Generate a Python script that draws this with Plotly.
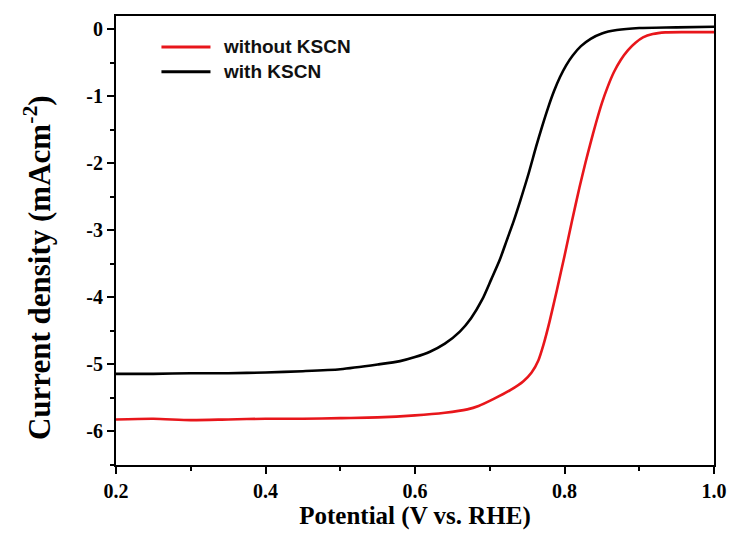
import plotly.graph_objects as go

# Data
x_without = [0.20, 0.25, 0.30, 0.35, 0.40, 0.45, 0.50, 0.55, 0.60, 0.64, 0.67, 0.685, 0.706, 0.728, 0.745, 0.756, 0.765, 0.772, 0.780,
             0.790, 0.800, 0.810, 0.820, 0.828, 0.834, 0.842, 0.850, 0.858, 0.866, 0.875, 0.885, 0.895, 0.905, 0.918, 0.935, 0.960, 1.00]
y_without = [-5.82, -5.81, -5.83, -5.82, -5.81, -5.81, -5.80, -5.79, -5.76, -5.72, -5.67, -5.62, -5.51, -5.38, -5.25, -5.12, -4.94, -4.70, -4.36,
             -3.88, -3.38, -2.86, -2.36, -1.99, -1.73, -1.40, -1.10, -0.85, -0.64, -0.46, -0.31, -0.20, -0.12, -0.07, -0.045, -0.04, -0.04]

x_with = [0.20, 0.25, 0.30, 0.35, 0.40, 0.45, 0.50, 0.55, 0.58, 0.60, 0.62, 0.64, 0.66, 0.675, 0.690, 0.702, 0.713, 0.723, 0.732, 0.741,
          0.752, 0.762, 0.770, 0.778, 0.786, 0.794, 0.802, 0.811, 0.822, 0.835, 0.850, 0.870, 0.900, 0.950, 1.00]
y_with = [-5.14, -5.14, -5.13, -5.13, -5.12, -5.10, -5.07, -5.00, -4.95, -4.89, -4.81, -4.69, -4.51, -4.31, -4.03, -3.73, -3.45, -3.14, -2.86, -2.55,
          -2.15, -1.75, -1.45, -1.17, -0.92, -0.71, -0.54, -0.39, -0.25, -0.14, -0.06, -0.01, 0.02, 0.03, 0.04]

series_names = ["without KSCN", "with KSCN"]
series_colors = ["#e8161b", "#000000"]

x_ticks = [0.2, 0.4, 0.6, 0.8, 1.0]
x_ticktext = ["0.2", "0.4", "0.6", "0.8", "1.0"]
y_ticks = [0, -1, -2, -3, -4, -5, -6]
y_ticktext = ["0", "-1", "-2", "-3", "-4", "-5", "-6"]

fig = go.Figure()
fig.add_trace(go.Scatter(x=x_without, y=y_without, mode="lines", name=series_names[0],
                         line=dict(color=series_colors[0], width=2.6, shape="spline", smoothing=0.7)))
fig.add_trace(go.Scatter(x=x_with, y=y_with, mode="lines", name=series_names[1],
                         line=dict(color=series_colors[1], width=2.6, shape="spline", smoothing=0.7)))

serif = "Liberation Serif, Times New Roman, serif"
axis_common = dict(showline=True, linecolor="black", linewidth=2, mirror=True, showgrid=False, zeroline=False,
                   ticks="outside", ticklen=7, tickwidth=2, tickcolor="black",
                   tickfont=dict(family=serif, size=20, color="black"))

fig.update_xaxes(range=[0.2, 1.0], tickvals=x_ticks, ticktext=["<b>" + t + "</b>" for t in x_ticktext],
                 minor=dict(dtick=0.1, tick0=0.2, ticks="outside", ticklen=4, tickwidth=2, tickcolor="black"),
                 title=dict(text="<b>Potential (V vs. RHE)</b>", font=dict(family=serif, size=25, color="black"), standoff=2),
                 **axis_common)
fig.update_yaxes(range=[-6.5, 0.2], tickvals=y_ticks, ticktext=["<b>" + t + "</b>" for t in y_ticktext],
                 minor=dict(dtick=0.5, tick0=0, ticks="outside", ticklen=4, tickwidth=2, tickcolor="black"),
                 **axis_common)

# Y-axis title placed as in the reference (slightly below the axis centre)
fig.add_annotation(xref="paper", yref="paper", x=-0.131, y=0.44, xanchor="center", yanchor="middle",
                   text="<b>Current density (mAcm<sup>-2</sup>)</b>", textangle=-90, showarrow=False,
                   font=dict(family=serif, size=31, color="black"))

# Manual legend (line sample + label)
legend_y = [0.931, 0.876]
for name, color, ly in zip(series_names, series_colors, legend_y):
    fig.add_shape(type="line", xref="paper", yref="paper", x0=0.076, x1=0.158, y0=ly, y1=ly,
                  line=dict(color=color, width=3))
    fig.add_annotation(xref="paper", yref="paper", x=0.176, y=ly, text="<b>" + name + "</b>", showarrow=False,
                       xanchor="left", yanchor="middle",
                       font=dict(family="Liberation Sans, Arial, sans-serif", size=19, color="#111111"))

fig.update_layout(width=739, height=534, showlegend=False,
                  margin=dict(l=116, r=16, t=16, b=67),
                  plot_bgcolor="white", paper_bgcolor="white")

fig.write_html("out.html")
